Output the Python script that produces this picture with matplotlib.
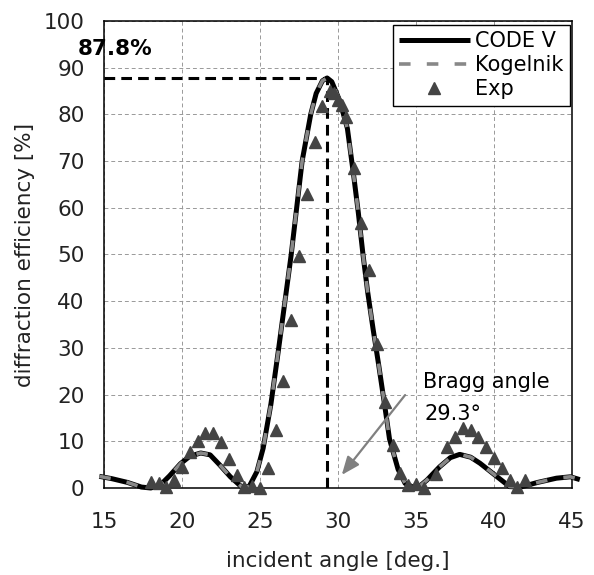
import matplotlib
matplotlib.use("Agg")
import matplotlib.pyplot as plt

plt.rcParams['font.family'] = ['DejaVu Sans']

# CODE V simulation curve
codev_x = [14.7, 15.5, 16.5, 17.4, 18.0, 18.6, 19.2, 19.9, 20.5, 21.2, 21.8, 22.4, 23.1, 23.8,
           24.3, 24.8, 25.2, 25.7, 26.2, 26.6, 27.0, 27.35, 27.7, 28.25, 28.6, 29.0, 29.3, 29.6,
           30.1, 30.6, 31.0, 31.3, 31.6, 31.9, 32.25, 32.6, 33.0, 33.3, 33.85, 34.3, 34.8, 35.2,
           35.7, 36.5, 37.2, 37.8, 38.5, 39.1, 40.2, 41.0, 41.7, 42.8, 44.0, 44.9, 45.5]
codev_y = [2.5, 2.0, 1.2, 0.2, 0.0, 0.6, 2.6, 5.2, 6.8, 7.5, 7.1, 5.0, 2.4, 0.3,
           0.3, 3.5, 8.5, 18.0, 30.0, 40.0, 50.0, 60.0, 70.0, 80.0, 84.5, 87.2, 87.8, 87.0,
           83.0, 77.0, 67.0, 59.0, 50.0, 42.0, 34.0, 26.5, 17.5, 10.5, 4.0, 1.0, 0.2, 0.3,
           1.7, 4.5, 6.5, 7.2, 6.6, 5.3, 2.4, 0.3, 0.2, 1.2, 2.1, 2.4, 1.8]

# Kogelnik coupled-wave theory curve
kog_x = [14.7, 15.5, 16.5, 17.4, 18.0, 18.6, 19.2, 19.9, 20.5, 21.2, 21.8, 22.4, 23.1, 23.8,
         24.3, 24.8, 25.2, 25.7, 26.2, 26.6, 27.0, 27.35, 27.7, 28.25, 28.6, 29.0, 29.3, 29.6,
         30.1, 30.6, 31.0, 31.3, 31.6, 31.9, 32.25, 32.6, 33.0, 33.3, 33.85, 34.3, 34.8, 35.2,
         35.7, 36.5, 37.2, 37.8, 38.5, 39.1, 40.2, 41.0, 41.7, 42.8, 44.0, 44.9, 45.5]
kog_y = [2.5, 2.0, 1.2, 0.2, 0.0, 0.6, 2.6, 5.2, 6.8, 7.5, 7.1, 5.0, 2.4, 0.3,
         0.3, 3.5, 8.5, 18.0, 30.0, 40.0, 50.0, 60.0, 70.0, 80.0, 84.5, 87.2, 87.8, 87.0,
         83.0, 77.0, 67.0, 59.0, 50.0, 42.0, 34.0, 26.5, 17.5, 10.5, 4.0, 1.0, 0.2, 0.3,
         1.7, 4.5, 6.5, 7.2, 6.6, 5.3, 2.4, 0.3, 0.2, 1.2, 2.1, 2.4, 1.8]

# Experimental points
exp_x = [18.0, 18.5, 19.0, 19.5, 20.0, 20.5, 21.0, 21.5, 22.0, 22.5, 23.0, 23.5, 24.0, 24.5,
         25.0, 25.5, 26.0, 26.5, 27.0, 27.5, 28.0, 28.5, 29.0, 29.5, 29.75, 30.0, 30.25, 30.5,
         31.0, 31.5, 32.0, 32.5, 33.0, 33.5, 34.0, 34.5, 35.0, 35.5, 36.25, 37.0, 37.5, 38.0,
         38.5, 39.0, 39.5, 40.0, 40.5, 41.0, 41.5, 42.0]
exp_y = [1.2, 1.0, 0.3, 1.7, 4.5, 7.7, 10.0, 11.8, 11.8, 9.9, 6.2, 2.8, 0.2, 0.4,
         0.1, 4.3, 12.5, 23.0, 36.0, 49.7, 63.0, 74.0, 81.7, 85.0, 84.5, 83.0, 82.0, 79.5,
         68.6, 56.8, 46.7, 30.8, 18.4, 9.2, 3.2, 0.6, 0.9, 0.0, 3.0, 8.7, 11.0, 12.8,
         12.4, 11.0, 8.8, 6.4, 4.3, 1.7, 0.2, 1.7]

bragg_angle = 29.3
peak_eff = 87.8

fig = plt.figure(figsize=(5.94, 5.75), dpi=100)
ax = fig.add_axes([0.1751, 0.1513, 0.7879, 0.8122])

ax.plot(codev_x, codev_y, color='black', lw=3.6, solid_capstyle='butt', label='CODE V',
        clip_on=False, zorder=3)
ax.plot(kog_x, kog_y, color='#888888', lw=2.6, linestyle=(0, (3.2, 4.5)), label='Kogelnik',
        clip_on=False, zorder=4)
ax.plot(exp_x, exp_y, linestyle='none', marker='^', ms=9, color='#444444', mec='#444444',
        label='Exp', clip_on=False, zorder=5)

# Peak marker dashed lines
ax.plot([15, bragg_angle], [peak_eff, peak_eff], color='black', lw=2.2,
        linestyle=(0, (3.5, 2)), zorder=2)
ax.plot([bragg_angle, bragg_angle], [0, peak_eff], color='black', lw=2.2,
        linestyle=(0, (3.5, 2)), zorder=2)

ax.text(13.33, 92.8, f'{peak_eff}%', fontsize=15.5, fontweight='bold', ha='left',
        va='baseline', clip_on=False)

ax.annotate('', xy=(30.24, 2.8), xytext=(34.3, 19.9),
            arrowprops=dict(arrowstyle='-|>,head_length=1.1,head_width=0.45',
                            color='#808080', lw=1.6, shrinkA=0, shrinkB=0), zorder=6)
ax.text(35.45, 21.4, 'Bragg angle', fontsize=15, ha='left', va='baseline')
ax.text(35.55, 14.6, f'{bragg_angle}°', fontsize=15, ha='left', va='baseline')

ax.set_xlim(15, 45)
ax.set_ylim(0, 100)
ax.set_xticks(range(15, 46, 5))
ax.set_yticks(range(0, 101, 10))
ax.tick_params(length=0, labelsize=15.5, labelcolor='#222222')
ax.tick_params(axis='y', pad=14)
ax.tick_params(axis='x', pad=17)
ax.grid(True, color='#999999', lw=0.7, linestyle=(0, (4, 3)))
ax.set_axisbelow(True)
for s in ax.spines.values():
    s.set_linewidth(1.1)
    s.set_color('black')

ax.set_xlabel('incident angle [deg.]', fontsize=15.5, color='#222222', labelpad=14)
ax.set_ylabel('diffraction efficiency [%]', fontsize=15.5, color='#222222', labelpad=6)

leg = ax.legend(loc='upper right', bbox_to_anchor=(0.995, 0.992), fontsize=15,
                frameon=True, fancybox=False, edgecolor='black', framealpha=1,
                handlelength=3.4, handletextpad=0.25, labelspacing=0.2, borderpad=0.3,
                borderaxespad=0, markerscale=1.0)
leg.get_frame().set_linewidth(1.0)

fig.savefig('out.png', dpi=100)
